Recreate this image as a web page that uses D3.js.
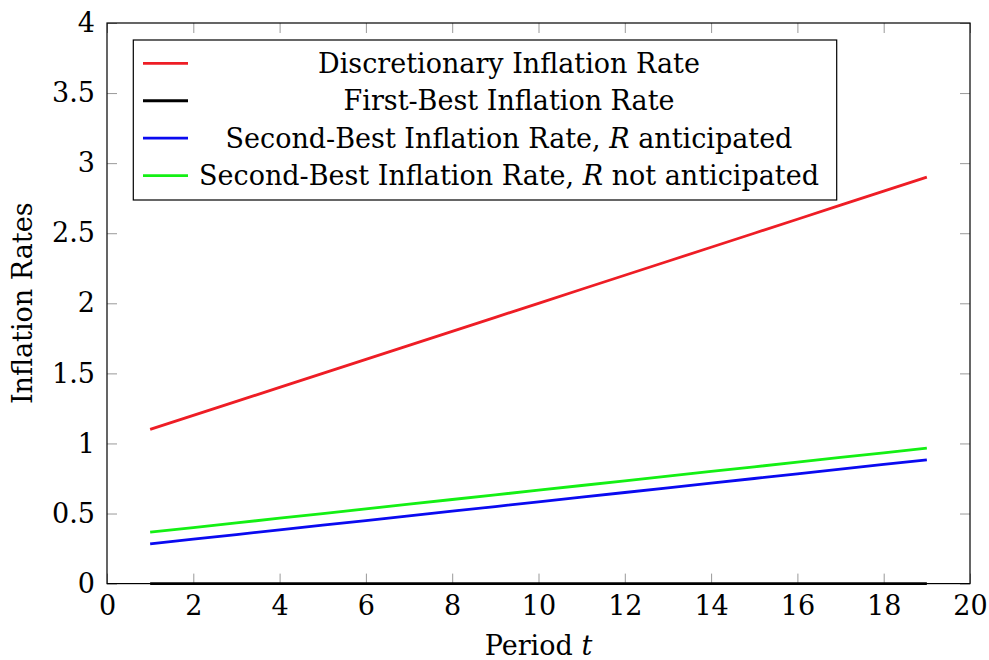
<!DOCTYPE html>
<html>
<head>
<meta charset="utf-8">
<script src="https://cdn.jsdelivr.net/npm/d3@7"></script>
<style>
  html, body { margin: 0; padding: 0; background: #fff; }
  svg { display: block; }
  text { font-family: "DejaVu Serif", "Liberation Serif", serif; fill: #000; }
</style>
</head>
<body>
<svg id="chart" width="989" height="660"></svg>
<script>
// Periods t = 1 .. 19
const periods = [1, 2, 3, 4, 5, 6, 7, 8, 9, 10, 11, 12, 13, 14, 15, 16, 17, 18, 19];

// Inflation rates per period for each policy regime
const discretionary = [1.1, 1.2, 1.3, 1.4, 1.5, 1.6, 1.7, 1.8, 1.9, 2.0, 2.1, 2.2, 2.3, 2.4, 2.5, 2.6, 2.7, 2.8, 2.9];
const firstBest = [0, 0, 0, 0, 0, 0, 0, 0, 0, 0, 0, 0, 0, 0, 0, 0, 0, 0, 0];
const secondBestAnticipated = [0.283, 0.317, 0.35, 0.383, 0.417, 0.45, 0.483, 0.517, 0.55, 0.583, 0.617, 0.65, 0.683, 0.717, 0.75, 0.783, 0.817, 0.85, 0.883];
const secondBestNotAnticipated = [0.367, 0.4, 0.433, 0.467, 0.5, 0.533, 0.567, 0.6, 0.633, 0.667, 0.7, 0.733, 0.767, 0.8, 0.833, 0.867, 0.9, 0.933, 0.967];

const seriesNames = [
  "Discretionary Inflation Rate",
  "First-Best Inflation Rate",
  "Second-Best Inflation Rate, R anticipated",
  "Second-Best Inflation Rate, R not anticipated"
];
const seriesColors = ["#ee1d25", "#000000", "#0a0af0", "#14f014"];
const seriesValues = [discretionary, firstBest, secondBestAnticipated, secondBestNotAnticipated];

const xTicks = [0, 2, 4, 6, 8, 10, 12, 14, 16, 18, 20];
const yTicks = [0, 0.5, 1, 1.5, 2, 2.5, 3, 3.5, 4];

const svg = d3.select("#chart");
const plotLeft = 107, plotRight = 970, plotTop = 23, plotBottom = 583.6;
const fontSize = 27;

const x = d3.scaleLinear().domain([0, 20]).range([plotLeft, plotRight]);
const y = d3.scaleLinear().domain([0, 4]).range([plotBottom, plotTop]);

// Axes: inward ticks on all four sides, labels only left and bottom
function styleAxis(g) {
  g.select(".domain").remove();
  g.selectAll(".tick line").attr("stroke", "#999").attr("stroke-width", 1);
  g.selectAll(".tick text").style("font-size", fontSize + "px").attr("fill", "#000");
}
svg.append("g").attr("transform", `translate(0,${plotBottom})`)
  .call(d3.axisBottom(x).tickValues(xTicks).tickFormat(d3.format("")).tickSize(-10).tickPadding(12))
  .call(styleAxis);
svg.append("g").attr("transform", `translate(0,${plotTop})`)
  .call(d3.axisTop(x).tickValues(xTicks).tickFormat("").tickSize(-10))
  .call(styleAxis);
svg.append("g").attr("transform", `translate(${plotLeft},0)`)
  .call(d3.axisLeft(y).tickValues(yTicks).tickFormat(d3.format("")).tickSize(-10).tickPadding(12))
  .call(styleAxis);
svg.append("g").attr("transform", `translate(${plotRight},0)`)
  .call(d3.axisRight(y).tickValues(yTicks).tickFormat("").tickSize(-10))
  .call(styleAxis);

// Series lines
const line = d3.line().x(d => x(d[0])).y(d => y(d[1]));
seriesValues.forEach((vals, i) => {
  svg.append("path")
    .datum(periods.map((t, k) => [t, vals[k]]))
    .attr("fill", "none")
    .attr("stroke", seriesColors[i])
    .attr("stroke-width", 2.8)
    .attr("d", line);
});

// Plot frame
svg.append("rect")
  .attr("x", plotLeft).attr("y", plotTop)
  .attr("width", plotRight - plotLeft).attr("height", plotBottom - plotTop)
  .attr("fill", "none").attr("stroke", "#000").attr("stroke-width", 1.2);

// Axis titles
svg.append("text")
  .attr("x", (plotLeft + plotRight) / 2).attr("y", 655)
  .attr("text-anchor", "middle")
  .style("font-size", fontSize + "px")
  .html('Period <tspan font-style="italic">t</tspan>');
svg.append("text")
  .attr("transform", `translate(32,${(plotTop + plotBottom) / 2}) rotate(-90)`)
  .attr("text-anchor", "middle")
  .style("font-size", fontSize + "px")
  .text("Inflation Rates");

// Legend
const legend = svg.append("g");
legend.append("rect")
  .attr("x", 133.3).attr("y", 40).attr("width", 703.4).attr("height", 160)
  .attr("fill", "#fff").attr("stroke", "#000").attr("stroke-width", 1.2);
seriesNames.forEach((name, i) => {
  const cy = 63.3 + i * 37.45;
  legend.append("line")
    .attr("x1", 143).attr("x2", 188).attr("y1", cy).attr("y2", cy)
    .attr("stroke", seriesColors[i]).attr("stroke-width", 2.8);
  const t = legend.append("text")
    .attr("x", 509).attr("y", cy).attr("dy", "0.36em")
    .attr("text-anchor", "middle")
    .style("font-size", fontSize + "px");
  const parts = name.split(", R ");
  if (parts.length === 2) {
    t.append("tspan").text(parts[0] + ", ");
    t.append("tspan").attr("font-style", "italic").text("R");
    t.append("tspan").text(" " + parts[1]);
  } else {
    t.text(name);
  }
});
</script>
</body>
</html>
